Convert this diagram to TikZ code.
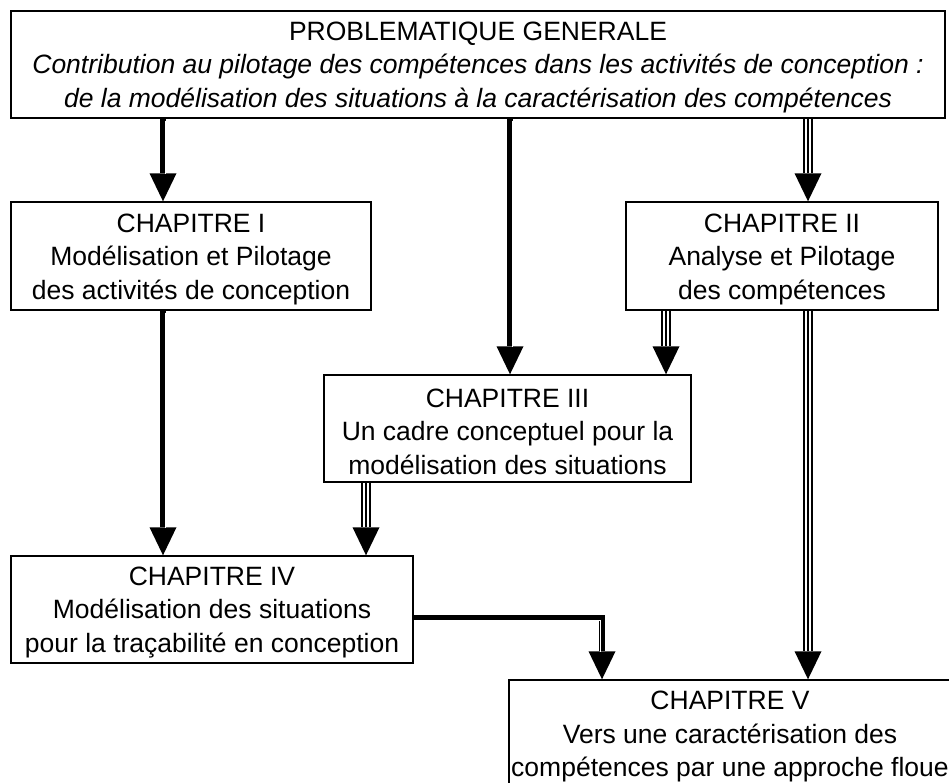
\documentclass[tikz,border=0pt]{standalone}
\usepackage{fontspec}
\setmainfont{Liberation Sans}
\usetikzlibrary{arrows.meta,backgrounds}
\begin{document}
\begin{tikzpicture}[x=1pt,y=-1pt,
  boxtext/.style={align=center, inner sep=0pt, yshift=-3pt,
    font=\fontsize{26.5}{33.5}\selectfont},
  box/.style={draw, line width=1.4pt, fill=white, inner sep=0pt,
    label={[boxtext]center:{#1}}},
  thk/.style={draw=black, line width=6.5pt, line join=miter,
    -{Triangle[width=27pt,length=28pt,line width=0pt]},
    postaction={draw=white, line width=0.9pt, arrows=-, shorten >=29pt,
      transform canvas={xshift=#1,yshift=-2pt}}},
  thk/.default=2pt,
  tri/.style={draw=black, line width=10pt,
    -{Triangle[width=27pt,length=28pt,line width=0pt]},
    postaction={draw=white, line width=6.4pt, arrows=-, shorten >=28.5pt},
    postaction={draw=black, line width=2.2pt, arrows=-, shorten >=28.5pt}},
]
\useasboundingbox (0,0) rectangle (949,783);

\node[box={PROBLEMATIQUE GENERALE\\
   \itshape Contribution au pilotage des compétences dans les activités de conception :\\
   \itshape de la modélisation des situations à la caractérisation des compétences},
   minimum width=934pt, minimum height=107pt] (top) at (478,64.5) {};
\node[box={CHAPITRE I\\Modélisation et Pilotage\\des activités de conception},
   minimum width=360pt, minimum height=108pt] (c1) at (191,256) {};
\node[box={CHAPITRE II\\Analyse et Pilotage\\des compétences},
   minimum width=312pt, minimum height=108pt] (c2) at (782,256) {};
\node[box={CHAPITRE III\\Un cadre conceptuel pour la\\modélisation des situations},
   minimum width=367pt, minimum height=107pt] (c3) at (507.5,428.5) {};
\node[box={CHAPITRE IV\\Modélisation des situations\\pour la traçabilité en conception},
   minimum width=402pt, minimum height=107pt] (c4) at (212,609.5) {};
\node[box={CHAPITRE V\\Vers une caractérisation des\\compétences par une approche floue},
   minimum width=442pt, minimum height=107pt] (c5) at (730,733.5) {};

\coordinate (xa) at (163,0);
\coordinate (xb) at (510,0);
\coordinate (xc) at (808,0);
\coordinate (xd) at (666,0);
\coordinate (xe) at (366,0);
\coordinate (xf) at (602,618);

\begin{scope}[on background layer]
\fill[white] (0,0) rectangle (949,783);
\draw[thk] (top.south -| xa) -- (c1.north -| xa);
\draw[thk] (top.south -| xb) -- (c3.north -| xb);
\draw[tri] (top.south -| xc) -- (c2.north -| xc);
\draw[thk] (c1.south -| xa) -- (c4.north -| xa);
\draw[tri] (c2.south -| xd) -- (c3.north -| xd);
\draw[tri] (c3.south -| xe) -- (c4.north -| xe);
\draw[tri] (c2.south -| xc) -- (c5.north -| xc);
\draw[thk=-2pt] (c4.east |- xf) -| (c5.north -| xf);
\end{scope}
\end{tikzpicture}
\end{document}
